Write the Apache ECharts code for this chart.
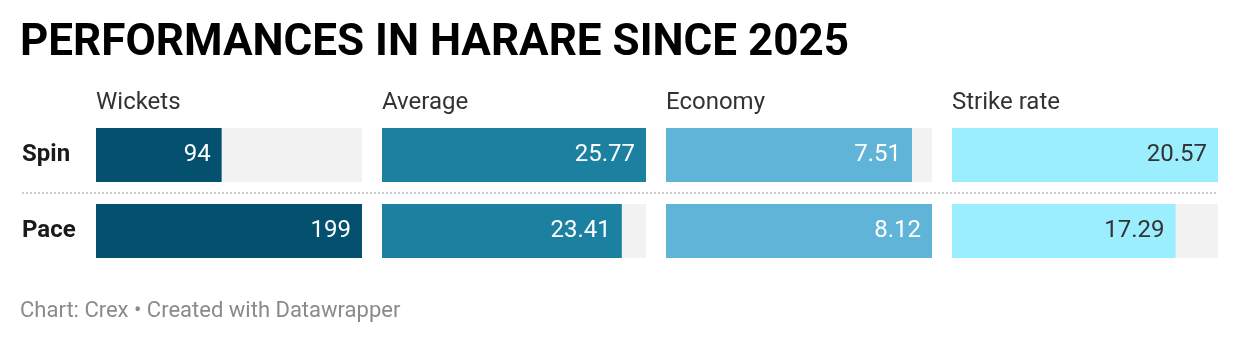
<!DOCTYPE html>
<html><head><meta charset="utf-8">
<script src="https://cdn.jsdelivr.net/npm/echarts@6/dist/echarts.min.js"></script>
<style>html,body{margin:0;padding:0;background:#fff}#c{width:1240px;height:344px}</style>
</head><body><div id="c"></div>
<script>
const categories = ['Spin', 'Pace'];
const metrics = ['Wickets', 'Average', 'Economy', 'Strike rate'];
const wickets = [94, 199];
const average = [25.77, 23.41];
const economy = [7.51, 8.12];
const strikeRate = [20.57, 17.29];
const decimals = [0, 2, 2, 2];

const seriesValues = [wickets, average, economy, strikeRate];
const colors = ['#03506f', '#1c81a1', '#60b4d8', '#9beefd'];
const labelColors = ['#ffffff', '#ffffff', '#ffffff', '#333333'];
const lefts = [96, 382, 666, 952];
const widths = [266, 264, 266, 266];
const font = 'Roboto, "Noto Sans", sans-serif';

const chart = echarts.init(document.getElementById('c'), null, {renderer: 'canvas'});
const grids = [], xAxes = [], yAxes = [], series = [], graphics = [];
metrics.forEach((m, i) => {
  grids.push({left: lefts[i], width: widths[i], top: 117, height: 152, containLabel: false});
  xAxes.push({gridIndex: i, type: 'value', min: 0, max: Math.max(...seriesValues[i]), show: false});
  yAxes.push({gridIndex: i, type: 'category', data: categories, inverse: true,
    axisLine: {show: false}, axisTick: {show: false}, splitLine: {show: false},
    axisLabel: {show: i === 0, align: 'left', margin: 74, fontFamily: font, fontWeight: 'bold', fontSize: 24, color: '#1a1a1a'}});
  series.push({type: 'bar', xAxisIndex: i, yAxisIndex: i, data: seriesValues[i], barWidth: 54,
    itemStyle: {color: colors[i]}, showBackground: true, backgroundStyle: {color: '#f2f2f2'},
    silent: true, animation: false,
    label: {show: true, position: 'insideRight', distance: 11, fontFamily: font, fontSize: 24, color: labelColors[i],
      formatter: p => p.value.toFixed(decimals[i])}});
  graphics.push({type: 'text', x: lefts[i], y: 103.3, style: {text: m, fontFamily: font, fontSize: 24, fill: '#333333', verticalAlign: 'middle'}});
});
graphics.push({type: 'text', x: 20, y: 44.2, style: {text: 'PERFORMANCES IN HARARE SINCE 2025', fontFamily: font, fontWeight: 'bold', fontSize: 44, fill: '#000000', verticalAlign: 'middle'}});
graphics.push({type: 'text', x: 20, y: 311, style: {text: 'Chart: Crex • Created with Datawrapper', fontFamily: font, fontSize: 22, fill: '#8a8a8a', verticalAlign: 'middle'}});
graphics.push({type: 'line', shape: {x1: 22, y1: 193, x2: 1218, y2: 193}, style: {stroke: '#cccccc', lineWidth: 2, lineDash: [2, 2]}});

chart.setOption({animation: false, grid: grids, xAxis: xAxes, yAxis: yAxes, series: series, graphic: graphics});
</script></body></html>
